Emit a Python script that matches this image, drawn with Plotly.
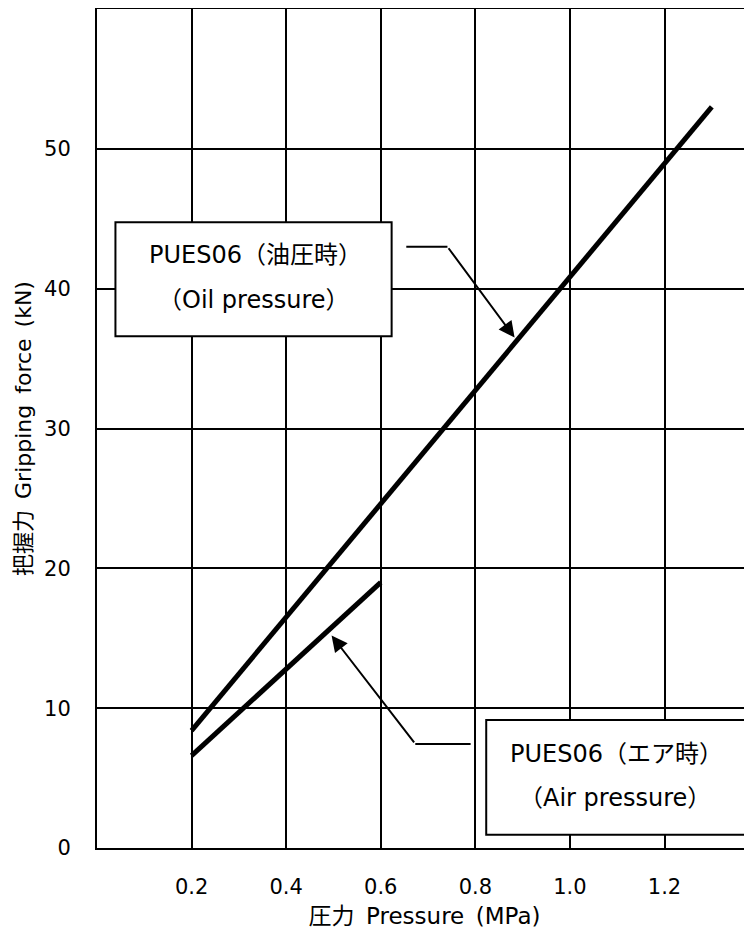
import plotly.graph_objects as go

# Data
oil_pressure = [0.2, 1.3]
oil_force = [8.4, 53.0]
air_pressure = [0.2, 0.6]
air_force = [6.6, 19.0]

x_ticks = [0.2, 0.4, 0.6, 0.8, 1.0, 1.2]
x_tick_labels = ["0.2", "0.4", "0.6", "0.8", "1.0", "1.2"]
y_ticks = [0, 10, 20, 30, 40, 50]
y_tick_labels = ["0", "10", "20", "30", "40", "50"]

oil_label = ["PUES06（油圧時）", "（Oil pressure）"]
air_label = ["PUES06（エア時）", "（Air pressure）"]
x_title = "圧力\u2002Pressure\u2002(MPa)"
y_title = "把握力\u2002Gripping\u2002force\u2002(kN)"

FONT = "DejaVu Sans, Noto Sans CJK JP, sans-serif"

fig = go.Figure()
fig.add_trace(go.Scatter(x=oil_pressure, y=oil_force, mode="lines",
                         line=dict(color="black", width=5), showlegend=False))
fig.add_trace(go.Scatter(x=air_pressure, y=air_force, mode="lines",
                         line=dict(color="black", width=5), showlegend=False))

# label boxes
fig.add_shape(type="rect", xref="x", yref="y", x0=0.039, x1=0.623, y0=36.6, y1=44.75,
              line=dict(color="black", width=2), fillcolor="white", layer="above")
fig.add_shape(type="rect", xref="x", yref="y", x0=0.823, x1=1.373, y0=0.95, y1=9.15,
              line=dict(color="black", width=2), fillcolor="white", layer="above")

ann_font = dict(family=FONT, size=24, color="black")
fig.add_annotation(x=0.335, y=42.4, xref="x", yref="y", text=oil_label[0], showarrow=False, font=ann_font)
fig.add_annotation(x=0.331, y=39.2, xref="x", yref="y", text=oil_label[1], showarrow=False, font=ann_font)
fig.add_annotation(x=1.098, y=6.7, xref="x", yref="y", text=air_label[0], showarrow=False, font=ann_font)
fig.add_annotation(x=1.095, y=3.6, xref="x", yref="y", text=air_label[1], showarrow=False, font=ann_font)

# leader lines
fig.add_shape(type="line", xref="x", yref="y", x0=0.654, x1=0.741, y0=43.0, y1=43.0,
              line=dict(color="black", width=2))
fig.add_annotation(x=0.883, y=36.5, ax=0.741, ay=43.0, xref="x", yref="y", axref="x", ayref="y",
                   text="", showarrow=True, arrowhead=2, arrowsize=1.6, arrowwidth=2,
                   arrowcolor="black", standoff=0)
fig.add_shape(type="line", xref="x", yref="y", x0=0.790, x1=0.673, y0=7.44, y1=7.44,
              line=dict(color="black", width=2))
fig.add_annotation(x=0.496, y=15.2, ax=0.673, ay=7.44, xref="x", yref="y", axref="x", ayref="y",
                   text="", showarrow=True, arrowhead=2, arrowsize=1.6, arrowwidth=2,
                   arrowcolor="black", standoff=0)

fig.update_layout(
    width=744, height=926,
    margin=dict(l=89, r=0, t=1, b=86),
    paper_bgcolor="white", plot_bgcolor="white",
    font=dict(family=FONT, size=21, color="black"),
    xaxis=dict(range=[0, 1.385], tickvals=x_ticks, ticktext=x_tick_labels,
               showgrid=True, gridcolor="black", gridwidth=1.5,
               showline=True, linecolor="black", linewidth=2, mirror=True,
               ticks="", ticklabelstandoff=19, zeroline=False,
               tickfont=dict(size=21),
               title=dict(text=x_title, standoff=10, font=dict(size=23))),
    yaxis=dict(range=[0, 60], tickvals=y_ticks, ticktext=y_tick_labels,
               showgrid=True, gridcolor="black", gridwidth=1.5,
               showline=True, linecolor="black", linewidth=2, mirror=False,
               ticks="", ticklabelstandoff=20, zeroline=False,
               tickfont=dict(size=21),
               title=dict(text=y_title, standoff=6, font=dict(size=22))),
)

fig.write_html("out.html")
